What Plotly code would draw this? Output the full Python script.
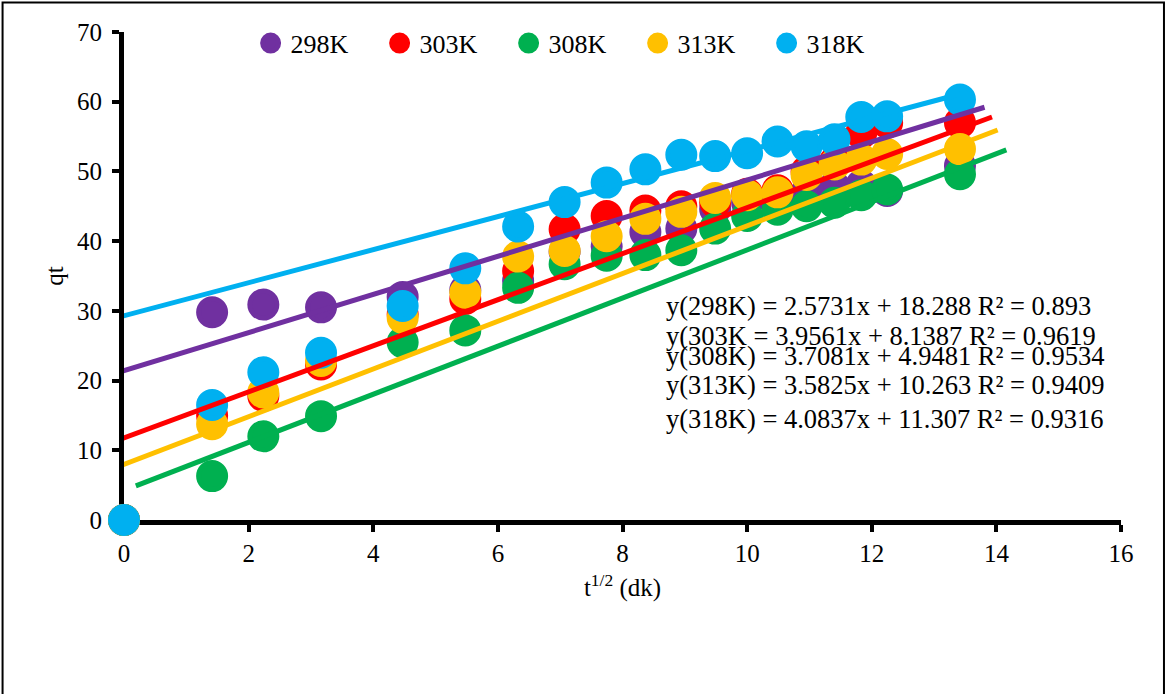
import plotly.graph_objects as go

# square root of contact time, t^1/2
sqrt_t = [0, 1.414, 2.236, 3.162, 4.472, 5.477, 6.325, 7.071, 7.746, 8.367,
          8.944, 9.487, 10.0, 10.488, 10.954, 11.402, 11.832, 12.247, 13.416]

series_names = ["298K", "303K", "308K", "313K", "318K"]
series_colors = ["#7030A0", "#FF0000", "#00B050", "#FFC000", "#00B0F0"]

qt_298 = [0, 29.8, 30.9, 30.5, 32.0, 33.0, 34.3, 38.5, 39.2, 41.3,
          41.8, 44.6, 45.5, 46.0, 47.0, 47.8, 48.0, 47.2, 50.8]
qt_303 = [0, 15.0, 17.8, 22.3, 29.5, 31.7, 35.7, 41.7, 43.6, 44.4,
          45.0, 45.6, 46.8, 47.3, 50.0, 51.3, 55.5, 57.0, 57.0]
qt_308 = [0, 6.3, 12.0, 14.9, 25.5, 27.2, 33.3, 36.7, 37.9, 38.0,
          38.7, 41.8, 43.6, 44.5, 45.0, 45.5, 46.6, 47.4, 49.6]
qt_313 = [0, 13.75, 18.3, 22.8, 29.0, 32.6, 37.8, 38.6, 40.7, 43.2,
          44.2, 46.2, 46.6, 47.0, 49.5, 51.0, 51.7, 52.5, 53.2]
qt_318 = [0, 16.5, 21.2, 24.0, 30.7, 36.1, 42.1, 45.6, 48.4, 50.3,
          52.4, 52.2, 52.6, 54.3, 53.6, 54.6, 57.8, 57.9, 60.3]
qt_all = [qt_298, qt_303, qt_308, qt_313, qt_318]

# straight guide lines drawn through each series
line_slope = [2.736, 3.305, 3.45, 3.422, 2.37]
line_intercept = [21.42, 11.77, 4.24, 7.97, 29.3]
line_start = [-0.41, -0.02, 0.19, -0.02, -0.36]
line_end = [13.81, 13.93, 14.16, 14.02, 13.42]

# regression equations printed on the chart
fit_labels = [
    "y(298K) = 2.5731x + 18.288 R² = 0.893",
    "y(303K = 3.9561x + 8.1387 R² = 0.9619",
    "y(308K) = 3.7081x + 4.9481 R² = 0.9534",
    "y(313K) = 3.5825x + 10.263 R² = 0.9409",
    "y(318K) = 4.0837x + 11.307 R² = 0.9316",
]
fit_label_y = [0.4385, 0.3771, 0.3362, 0.2762, 0.2066]

x_ticks = [0, 2, 4, 6, 8, 10, 12, 14, 16]
y_ticks = [0, 10, 20, 30, 40, 50, 60, 70]

FONT = "Liberation Serif, Times New Roman, serif"

fig = go.Figure()

for name, color, qt in zip(series_names, series_colors, qt_all):
    fig.add_trace(go.Scatter(
        x=sqrt_t, y=qt, mode="markers", name=name,
        marker=dict(symbol="circle", size=27, color=color,
                    line=dict(color=color, width=5)),
        cliponaxis=False,
    ))

for color, m, b, x0, x1 in zip(series_colors, line_slope, line_intercept,
                               line_start, line_end):
    fig.add_trace(go.Scatter(
        x=[x0, x1], y=[b + m * x0, b + m * x1], mode="lines",
        line=dict(color=color, width=5), showlegend=False,
        hoverinfo="skip", cliponaxis=False,
    ))

for text, yp in zip(fit_labels, fit_label_y):
    fig.add_annotation(
        text=text, xref="paper", yref="paper", x=0.5416, y=yp,
        xanchor="left", yanchor="middle", showarrow=False,
        font=dict(family=FONT, size=26.5, color="#000000"),
    )

axis_common = dict(
    showgrid=False, zeroline=False, showline=True, linecolor="#000000",
    linewidth=5, ticks="outside", ticklen=7, tickwidth=4,
    tickcolor="#000000", layer="below traces",
    tickfont=dict(family=FONT, size=25, color="#000000"),
)

fig.update_layout(
    width=1167, height=694,
    margin=dict(l=124, r=46, t=32, b=174),
    paper_bgcolor="#FFFFFF", plot_bgcolor="#FFFFFF",
    font=dict(family=FONT, color="#000000"),
    xaxis=dict(
        range=[0, 16], tickvals=x_ticks, **axis_common,
        title=dict(text="t<sup>1/2</sup> (dk)",
                   font=dict(family=FONT, size=25), standoff=14),
    ),
    yaxis=dict(
        range=[0, 70], tickvals=y_ticks, **axis_common,
        ticklabelstandoff=5,
        title=dict(text="qt", font=dict(family=FONT, size=25), standoff=8),
    ),
    xaxis2=dict(
        overlaying="x", anchor="y", side="bottom", range=[0, 16],
        tickvals=x_ticks, ticks="inside", ticklen=7, tickwidth=4,
        tickcolor="#000000", showticklabels=False, showgrid=False,
        zeroline=False, showline=False, layer="below traces",
    ),
    yaxis2=dict(
        overlaying="y", anchor="x", side="left", range=[0, 70],
        tickvals=y_ticks, ticks="inside", ticklen=7, tickwidth=4,
        tickcolor="#000000", showticklabels=False, showgrid=False,
        zeroline=False, showline=False, layer="below traces",
    ),
    legend=dict(
        orientation="h", x=0.127, y=0.977, xanchor="left", yanchor="middle",
        font=dict(family=FONT, size=26, color="#000000"),
        bgcolor="rgba(0,0,0,0)", entrywidth=84, itemsizing="trace",
    ),
    showlegend=True,
)

# outer frame around the whole chart
fig.add_shape(
    type="rect", xref="paper", yref="paper",
    x0=-0.1218, x1=1.0431, y0=-0.40, y1=1.0606,
    line=dict(color="#000000", width=2), fillcolor="rgba(0,0,0,0)",
    layer="below",
)

fig.write_html("out.html")
